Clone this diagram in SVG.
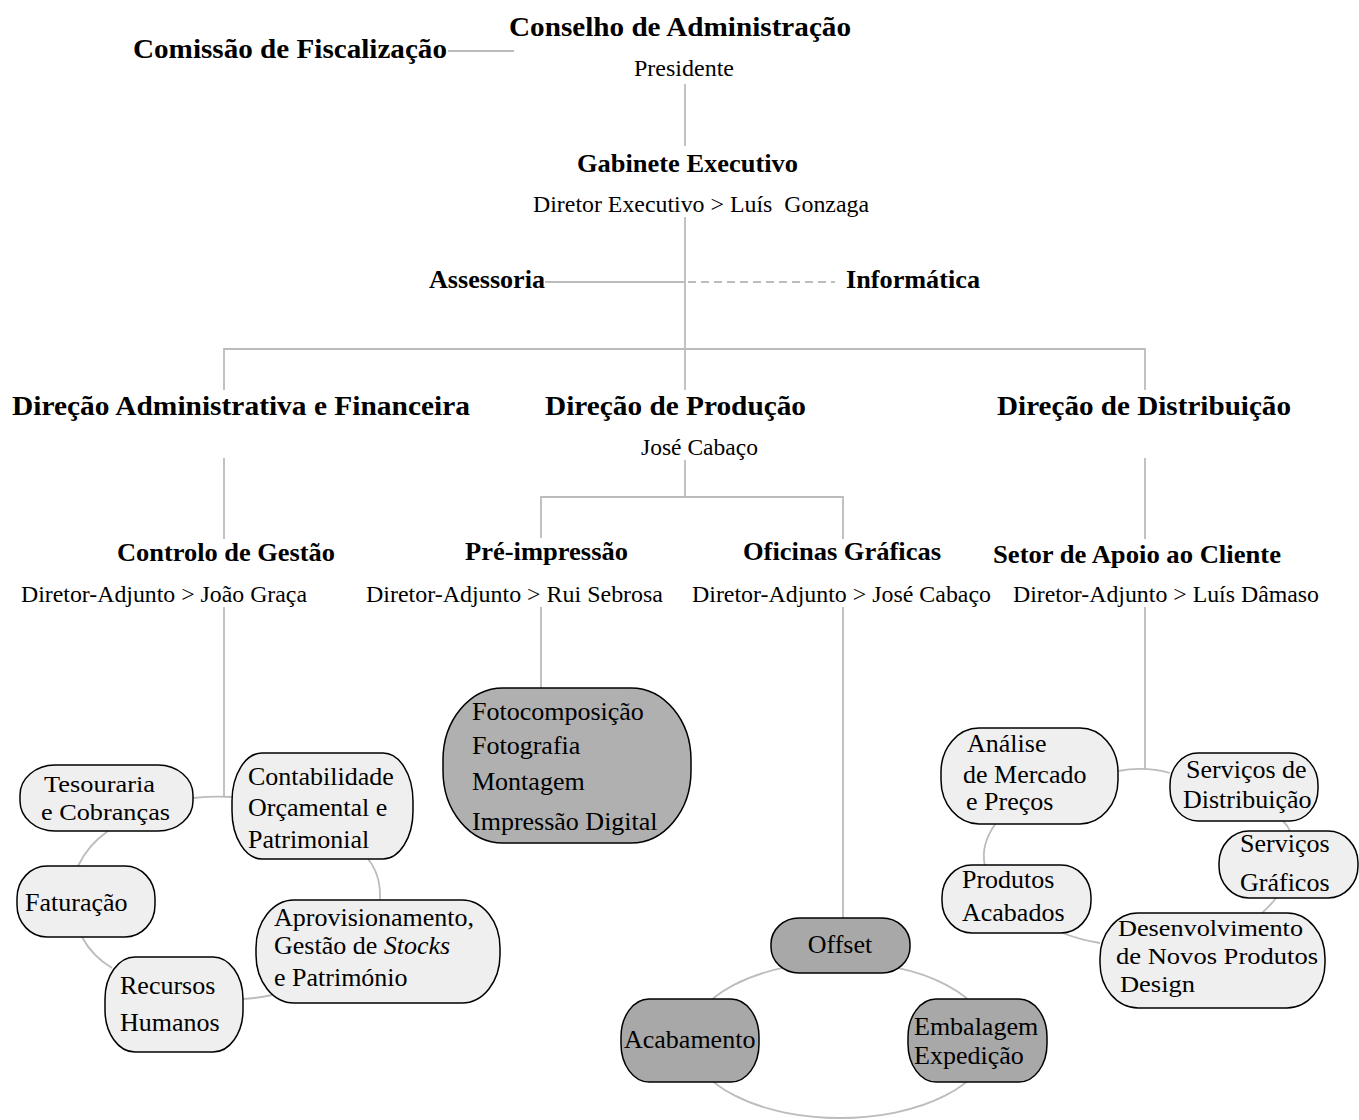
<svg xmlns="http://www.w3.org/2000/svg" width="1359" height="1120" viewBox="0 0 1359 1120">
<style>
text{font-family:"Liberation Serif","Times New Roman",serif;fill:#000}
.h1{font-size:28px;font-weight:bold}
.h2{font-size:26px;font-weight:bold}
.r{font-size:24px}
.n{font-size:26px}
.ns{font-size:24px}
.ln{fill:none;stroke:#bcbcbc;stroke-width:1.8}
.dash{stroke-dasharray:8 5}
.lt{fill:#efefef;stroke:#000;stroke-width:1.5}
.dk{fill:#a8a8a8;stroke:#000;stroke-width:1.5}
</style>
<rect width="1359" height="1120" fill="#fff"/>
<g id="connectors">
<line class="ln" x1="448" y1="51" x2="514" y2="51"/>
<line class="ln" x1="685" y1="84" x2="685" y2="146"/>
<line class="ln" x1="685" y1="217" x2="685" y2="390"/>
<line class="ln" x1="545" y1="282" x2="685" y2="282"/>
<line class="ln dash" x1="688" y1="282" x2="835" y2="282"/>
<polyline class="ln" points="224,390 224,349 1145,349 1145,390"/>
<line class="ln" x1="224" y1="458" x2="224" y2="539"/>
<line class="ln" x1="1145" y1="458" x2="1145" y2="539"/>
<line class="ln" x1="685" y1="460" x2="685" y2="497"/>
<polyline class="ln" points="541,538 541,497 843,497 843,539"/>
<line class="ln" x1="224" y1="607" x2="224" y2="797"/>
<line class="ln" x1="541" y1="607" x2="541" y2="688"/>
<line class="ln" x1="843" y1="607" x2="843" y2="918"/>
<line class="ln" x1="1145" y1="607" x2="1145" y2="770"/>
<path class="ln" d="M193,798 Q212,796 232,797"/>
<path class="ln" d="M108,831 Q88,845 78,866"/>
<path class="ln" d="M82,937 Q92,956 112,968"/>
<path class="ln" d="M243,999 Q258,998 272,995"/>
<path class="ln" d="M380,899 Q381,875 368,859"/>
<path class="ln" d="M1118,771 Q1145,766 1170,773"/>
<path class="ln" d="M1283,821 Q1288,826 1290,831"/>
<path class="ln" d="M1276,898 Q1270,906 1262,913"/>
<path class="ln" d="M1100,943 Q1080,940 1060,932"/>
<path class="ln" d="M985,866 Q980,845 996,823"/>
<ellipse class="ln" cx="840" cy="1040" rx="150" ry="78"/>
</g>
<g id="conselho"><text class="h1" x="509" y="36" textLength="342" lengthAdjust="spacingAndGlyphs">Conselho de Administração</text><text class="r" x="634" y="76" textLength="100" lengthAdjust="spacingAndGlyphs">Presidente</text></g>
<g id="comissao"><text class="h1" x="133" y="58" textLength="314" lengthAdjust="spacingAndGlyphs">Comissão de Fiscalização</text></g>
<g id="gabinete"><text class="h2" x="577" y="172" textLength="221" lengthAdjust="spacingAndGlyphs">Gabinete Executivo</text><text class="r" x="533" y="212" textLength="336" lengthAdjust="spacingAndGlyphs" xml:space="preserve">Diretor Executivo &gt; Luís  Gonzaga</text></g>
<g id="assessoria"><text class="h2" x="429" y="288" textLength="116" lengthAdjust="spacingAndGlyphs">Assessoria</text></g>
<g id="informatica"><text class="h2" x="846" y="288" textLength="134" lengthAdjust="spacingAndGlyphs">Informática</text></g>
<g id="dir-adm"><text class="h1" x="12" y="415" textLength="458" lengthAdjust="spacingAndGlyphs">Direção Administrativa e Financeira</text></g>
<g id="dir-prod"><text class="h1" x="545" y="415" textLength="261" lengthAdjust="spacingAndGlyphs">Direção de Produção</text><text class="r" x="641" y="455" textLength="117" lengthAdjust="spacingAndGlyphs">José Cabaço</text></g>
<g id="dir-dist"><text class="h1" x="997" y="415" textLength="294" lengthAdjust="spacingAndGlyphs">Direção de Distribuição</text></g>
<g id="controlo"><text class="h2" x="117" y="561" textLength="218" lengthAdjust="spacingAndGlyphs">Controlo de Gestão</text><text class="r" x="21" y="602" textLength="286" lengthAdjust="spacingAndGlyphs">Diretor-Adjunto &gt; João Graça</text></g>
<g id="preimpressao"><text class="h2" x="465" y="560" textLength="163" lengthAdjust="spacingAndGlyphs">Pré-impressão</text><text class="r" x="366" y="602" textLength="297" lengthAdjust="spacingAndGlyphs">Diretor-Adjunto &gt; Rui Sebrosa</text></g>
<g id="oficinas"><text class="h2" x="743" y="560" textLength="198" lengthAdjust="spacingAndGlyphs">Oficinas Gráficas</text><text class="r" x="692" y="602" textLength="299" lengthAdjust="spacingAndGlyphs">Diretor-Adjunto &gt; José Cabaço</text></g>
<g id="setor"><text class="h2" x="993" y="563" textLength="288" lengthAdjust="spacingAndGlyphs">Setor de Apoio ao Cliente</text><text class="r" x="1013" y="602" textLength="306" lengthAdjust="spacingAndGlyphs">Diretor-Adjunto &gt; Luís Dâmaso</text></g>
<g id="tesouraria"><rect class="lt" x="20" y="765" width="173" height="66" rx="35" ry="30"/><text class="ns" x="44" y="792" textLength="111" lengthAdjust="spacingAndGlyphs">Tesouraria</text><text class="ns" x="41" y="820" textLength="129" lengthAdjust="spacingAndGlyphs">e Cobranças</text></g>
<g id="contabilidade"><rect class="lt" x="232" y="753" width="181" height="106" rx="30" ry="48"/><text class="n" x="248" y="785">Contabilidade</text><text class="n" x="248" y="816">Orçamental e</text><text class="n" x="248" y="848">Patrimonial</text></g>
<g id="faturacao"><rect class="lt" x="17" y="866" width="138" height="71" rx="30" ry="32"/><text class="n" x="25" y="911">Faturação</text></g>
<g id="aprovisionamento"><rect class="lt" x="256" y="900" width="244" height="103" rx="38" ry="48"/><text class="n" x="274" y="926">Aprovisionamento,</text><text class="n" x="274" y="954">Gestão de <tspan font-style="italic">Stocks</tspan></text><text class="n" x="274" y="986">e Património</text></g>
<g id="recursos"><rect class="lt" x="105" y="957" width="138" height="95" rx="30" ry="42"/><text class="n" x="120" y="994">Recursos</text><text class="n" x="120" y="1031">Humanos</text></g>
<g id="fotocomposicao"><rect class="dk" x="443" y="688" width="248" height="155" rx="60" ry="72" style="fill:#b0b0b0"/><text class="n" x="472" y="720">Fotocomposição</text><text class="n" x="472" y="754">Fotografia</text><text class="n" x="472" y="790">Montagem</text><text class="n" x="472" y="830">Impressão Digital</text></g>
<g id="offset"><rect class="dk" x="771" y="918" width="139" height="55" rx="28" ry="26"/><text class="n" x="840" y="953" text-anchor="middle">Offset</text></g>
<g id="acabamento"><rect class="dk" x="621" y="999" width="138" height="83" rx="28" ry="38"/><text class="n" x="624" y="1048">Acabamento</text></g>
<g id="embalagem"><rect class="dk" x="908" y="999" width="139" height="83" rx="28" ry="38"/><text class="n" x="914" y="1035">Embalagem</text><text class="n" x="914" y="1064">Expedição</text></g>
<g id="analise"><rect class="lt" x="941" y="728" width="177" height="96" rx="38" ry="44"/><text class="n" x="967" y="752">Análise</text><text class="n" x="963" y="783">de Mercado</text><text class="n" x="966" y="810">e Preços</text></g>
<g id="servicos-distribuicao"><rect class="lt" x="1170" y="753" width="148" height="68" rx="28" ry="32"/><text class="n" x="1186" y="778">Serviços de</text><text class="n" x="1183" y="808">Distribuição</text></g>
<g id="servicos-graficos"><rect class="lt" x="1219" y="831" width="139" height="67" rx="30" ry="32"/><text class="n" x="1240" y="852">Serviços</text><text class="n" x="1240" y="891">Gráficos</text></g>
<g id="produtos"><rect class="lt" x="942" y="865" width="149" height="68" rx="30" ry="32"/><text class="n" x="962" y="888">Produtos</text><text class="n" x="962" y="921">Acabados</text></g>
<g id="desenvolvimento"><rect class="lt" x="1100" y="913" width="225" height="95" rx="38" ry="45"/><text class="ns" x="1118" y="936" textLength="185" lengthAdjust="spacingAndGlyphs">Desenvolvimento</text><text class="ns" x="1116" y="964" textLength="202" lengthAdjust="spacingAndGlyphs">de Novos Produtos</text><text class="ns" x="1120" y="992" textLength="75" lengthAdjust="spacingAndGlyphs">Design</text></g>
</svg>
